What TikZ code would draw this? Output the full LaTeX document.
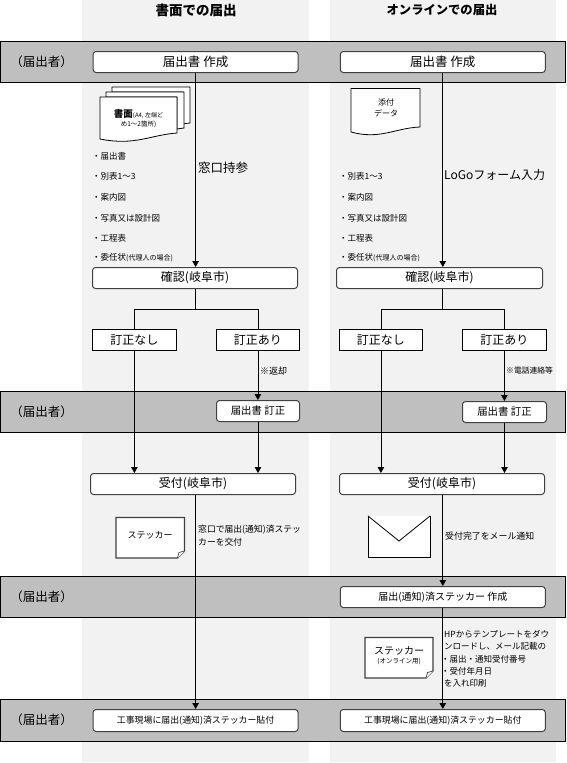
\documentclass[tikz,border=0pt]{standalone}
\usepackage{fontspec}
\setmainfont{Noto Sans CJK JP}
\usetikzlibrary{arrows.meta}
\newcommand{\fs}[1]{\fontsize{#1}{#1}\selectfont}
\definecolor{bandgray}{HTML}{BFBFBF}
\definecolor{colgray}{HTML}{F2F2F2}
\definecolor{edgegray}{HTML}{404040}
\tikzset{
  x=1pt,y=-1pt,
  column/.style={fill=colgray,draw=none},
  band/.style={fill=bandgray,draw=black,line width=0.8pt},
  rbox/.style={draw=edgegray,line width=1pt,fill=white,rounded corners=3pt,inner sep=0pt,font=\fs{12}},
  sbox/.style={draw=black,line width=0.8pt,fill=white,inner sep=0pt,font=\fs{12}},
  flow/.style={draw=black,line width=0.8pt},
  arrow/.style={flow,-{Triangle[width=6.5pt,length=6pt]}},
  txt/.style={inner sep=0pt,anchor=west,font=\fs{8.5}},
  tag/.style={inner sep=0pt,font=\fs{12.5}},
  paper/.style={draw=black,line width=0.8pt,fill=white},
  sticker/.style={draw=edgegray,line width=1.1pt,fill=white},
}
\newcommand{\boxat}[6]{\node[#1,minimum width=#4-#3,minimum height=#6-#5,anchor=north west] (#2) at (#3,#5)}
\begin{document}
\begin{tikzpicture}
\useasboundingbox (0,0) rectangle (567,763);
% columns
\fill[column] (82,0) rectangle (309,762);
\fill[column] (330,0) rectangle (556,762);
% bands
\draw[band] (0.5,41) rectangle (565.6,82);
\draw[band] (0.5,391) rectangle (565.6,432);
\draw[band] (0.5,576) rectangle (565.6,617);
\draw[band] (0.5,699) rectangle (565.6,741);
% headers
\node[inner sep=0pt,font=\fs{13.5}\bfseries] (hl) at (196,10) {書面での届出};
\node[inner sep=0pt,font=\fs{12.3}\bfseries] (hr) at (442,10) {オンラインでの届出};
\node[tag] (b1) at (41.5,62) {（届出者）};
\node[tag] (b2) at (41.5,412) {（届出者）};
\node[tag] (b3) at (41.5,597) {（届出者）};
\node[tag] (b4) at (41.5,720) {（届出者）};
% named boxes
\boxat{rbox,font=\fs{12.5}}{la}{92.6}{297.6}{51}{72} {届出書 作成};
\boxat{rbox,font=\fs{12.5}}{ra}{339.8}{544.8}{51}{72} {届出書 作成};
\boxat{rbox}{lb}{92}{297}{267}{288} {確認(岐阜市)};
\boxat{rbox}{rb}{336}{542}{267}{288} {確認(岐阜市)};
\boxat{sbox}{ln}{92}{176}{329}{350} {訂正なし};
\boxat{sbox}{ly}{216}{299}{329}{350} {訂正あり};
\boxat{sbox}{rn}{339}{422}{329}{350} {訂正なし};
\boxat{sbox}{ry}{462}{546}{329}{350} {訂正あり};
\boxat{rbox,font=\fs{10.4}}{lc}{216}{299}{400}{421} {届出書 訂正};
\boxat{rbox,font=\fs{10.4}}{rc}{462}{546}{401}{422} {届出書 訂正};
\boxat{rbox}{ld}{90}{295}{473}{494} {受付(岐阜市)};
\boxat{rbox}{rd}{339}{544}{473}{494} {受付(岐阜市)};
\boxat{rbox,font=\fs{10}}{re}{339.8}{544.8}{586}{607} {届出(通知)済ステッカー 作成};
\boxat{rbox,font=\fs{8.9}}{lf}{92.6}{297.6}{709}{731} {工事現場に届出(通知)済ステッカー貼付};
\boxat{rbox,font=\fs{8.9}}{rf}{339.8}{544.8}{709}{731} {工事現場に届出(通知)済ステッカー貼付};
% connectors
\coordinate (ljoin) at (la.south |- 0,309.5);
\coordinate (rjoin) at (ra.south |- 0,309.5);
\draw[arrow] (la.south) -- (la.south |- lb.north);
\draw[arrow] (ra.south) -- (ra.south |- rb.north);
\draw[flow] (la.south |- lb.south) -- (ljoin);
\draw[flow] (ra.south |- rb.south) -- (rjoin);
\draw[flow] (ln.north) |- (ljoin) -| (ly.north);
\draw[flow] (rn.north) |- (rjoin) -| (ry.north);
\draw[arrow] (ln.south) -- (ln.south |- ld.north);
\draw[arrow] (ly.south) -- (ly.south |- lc.north);
\draw[arrow] (lc.south) -- (lc.south |- ld.north);
\draw[arrow] (rn.south) -- (rn.south |- rd.north);
\draw[arrow] (ry.south) -- (ry.south |- rc.north);
\draw[arrow] (rc.south) -- (rc.south |- rd.north);
\draw[arrow] (la.south |- ld.south) -- (la.south |- lf.north);
\draw[arrow] (ra.south |- rd.south) -- (re.north);
\draw[arrow] (re.south) -- (rf.north);
% document stack
\draw[paper] (112,87) -- (190,87) -- (190,123) -- (183,123.8) -- (183,92) -- (112,92) -- cycle;
\draw[paper] (106,92) -- (184,92) -- (184,128) -- (177,129) -- (177,97) -- (106,97) -- cycle;
\draw[paper] (100,97) -- (177,97) -- (177,133) .. controls (150,135) and (135,146) .. (100,139) -- cycle;
\node[inner sep=0pt] (doc) at (138.5,114.5) {\fs{9.5}\bfseries 書面\mdseries\fs{6}(A4, 左端ど};
\node[inner sep=0pt,font=\fs{6.5}] (doc2) at (138.5,124.5) {め1～2箇所)};
% attached data
\draw[paper] (351,88.5) -- (420,88.5) -- (420,127) .. controls (395,128) and (380,140) .. (351,132) -- cycle;
\node[inner sep=0pt,font=\fs{8}] (att1) at (386,102) {添付};
\node[inner sep=0pt,font=\fs{8}] (att2) at (386,113) {データ};
% lists
\node[txt] (l1) at (92,156) {・届出書};
\node[txt] (l2) at (92,176) {・別表1～3};
\node[txt] (l3) at (92,197) {・案内図};
\node[txt] (l4) at (92,218) {・写真又は設計図};
\node[txt] (l5) at (92,238) {・工程表};
\node[txt] (l6) at (92,258) {・委任状\fs{7}(代理人の場合)};
\node[txt] (r2) at (339,176) {・別表1～3};
\node[txt] (r3) at (339,197) {・案内図};
\node[txt] (r4) at (339,218) {・写真又は設計図};
\node[txt] (r5) at (339,238) {・工程表};
\node[txt] (r6) at (339,258) {・委任状\fs{7}(代理人の場合)};
% edge labels
\node[txt,font=\fs{12.5}] (m1) at (198,168) {窓口持参};
\node[txt,font=\fs{12}] (m2) at (444,175) {LoGoフォーム入力};
\node[txt,font=\fs{9}] (m3) at (260,371) {※返却};
\node[txt,font=\fs{7.8}] (m4) at (506,371) {※電話連絡等};
\node[txt,font=\fs{8.8}] (m5a) at (198,530) {窓口で届出(通知)済ステッ};
\node[txt,font=\fs{8.8}] (m5b) at (198,542) {カーを交付};
\node[txt,font=\fs{8.9}] (m6) at (445,536) {受付完了をメール通知};
\node[txt] (h1) at (444,634) {HPからテンプレートをダウ};
\node[txt] (h2) at (444,646) {ンロードし、メール記載の};
\node[txt] (h3) at (441,659) {・届出・通知受付番号};
\node[txt] (h4) at (441,671) {・受付年月日};
\node[txt] (h5) at (444,683) {を入れ印刷};
% stickers
\draw[sticker] (116,517.5) -- (184.5,517.5) -- (184.5,551) -- (177.5,558) -- (116,558) -- cycle;
\draw[sticker,line width=0.7pt] (184.5,551) -- (179,552.5) -- (177.5,558);
\node[inner sep=0pt,font=\fs{9}] (s1) at (150,535) {ステッカー};
\draw[sticker] (365,637.5) -- (433,637.5) -- (433,671) -- (426,678) -- (365,678) -- cycle;
\draw[sticker,line width=0.7pt] (433,671) -- (427.5,672.5) -- (426,678);
\node[inner sep=0pt,font=\fs{10}] (s2) at (399,651) {ステッカー};
\node[inner sep=0pt,font=\fs{6.5}] (s3) at (399,661) {(オンライン用)};
% envelope
\draw[paper] (368,516) rectangle (430,557);
\draw[paper] (368,516) -- (399,541) -- (430,516);
\end{tikzpicture}
\end{document}
